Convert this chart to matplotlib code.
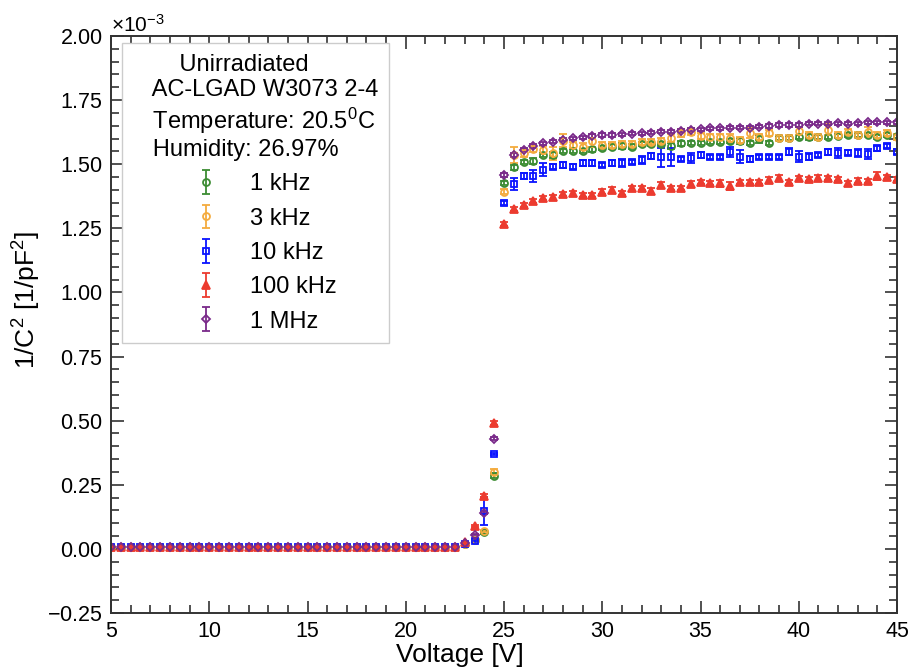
import numpy as np
import matplotlib
matplotlib.use("Agg")
from matplotlib import pyplot as plt
from matplotlib.ticker import MultipleLocator, ScalarFormatter

plt.rcParams['font.family'] = ['Liberation Sans', 'DejaVu Sans']
plt.rcParams['mathtext.fontset'] = 'custom'
plt.rcParams['mathtext.rm'] = 'Liberation Sans'
plt.rcParams['mathtext.it'] = 'Liberation Sans:italic'

# bias voltage, 0.5 V steps
voltage = np.arange(5.0, 45.01, 0.5)

# 1/C^2 in units of 1e-3 pF^-2
# 5.0 .. 22.5 V: all frequencies sit on the same flat baseline
flat = [0.007, 0.007, 0.007, 0.007, 0.007, 0.007, 0.007, 0.007, 0.007, 0.007, 0.007, 0.007,
        0.007, 0.007, 0.007, 0.007, 0.007, 0.007, 0.007, 0.007, 0.007, 0.007, 0.007, 0.007,
        0.007, 0.007, 0.007, 0.007, 0.007, 0.007, 0.007, 0.007, 0.007, 0.007, 0.007, 0.007]
flat_err = [0.002, 0.002, 0.002, 0.002, 0.002, 0.002, 0.002, 0.002, 0.002, 0.002, 0.002, 0.002,
            0.002, 0.002, 0.002, 0.002, 0.002, 0.002, 0.002, 0.002, 0.002, 0.002, 0.002, 0.002,
            0.002, 0.002, 0.002, 0.002, 0.002, 0.002, 0.002, 0.002, 0.002, 0.002, 0.002, 0.002]

# 23.0 .. 24.5 V
rise_1k = [0.020, 0.035, 0.065, 0.285]
rise_3k = [0.020, 0.035, 0.070, 0.300]
rise_10k = [0.020, 0.030, 0.148, 0.370]
rise_100k = [0.025, 0.090, 0.207, 0.490]
rise_1M = [0.022, 0.056, 0.140, 0.430]
rise_err_1k = [0.002, 0.003, 0.005, 0.010]
rise_err_3k = [0.002, 0.003, 0.005, 0.010]
rise_err_10k = [0.002, 0.004, 0.055, 0.005]
rise_err_100k = [0.002, 0.004, 0.006, 0.008]
rise_err_1M = [0.002, 0.003, 0.005, 0.006]

# 25.0 .. 45.0 V
plat_1k = [1.426, 1.488, 1.510, 1.514, 1.536, 1.536, 1.553, 1.553, 1.553, 1.558, 1.562,
           1.569, 1.571, 1.569, 1.579, 1.579, 1.579, 1.571, 1.582, 1.584, 1.584,
           1.588, 1.588, 1.592, 1.592, 1.582, 1.597, 1.582, 1.601, 1.601, 1.605,
           1.605, 1.605, 1.607, 1.610, 1.614, 1.614, 1.614, 1.607, 1.614, 1.610]
plat_3k = [1.393, 1.536, 1.543, 1.558, 1.555, 1.543, 1.592, 1.575, 1.569, 1.592, 1.575,
           1.575, 1.579, 1.579, 1.588, 1.588, 1.592, 1.601, 1.621, 1.627, 1.610,
           1.605, 1.605, 1.601, 1.595, 1.621, 1.605, 1.621, 1.601, 1.601, 1.630,
           1.614, 1.605, 1.635, 1.614, 1.627, 1.614, 1.627, 1.614, 1.621, 1.605]
plat_10k = [1.350, 1.423, 1.454, 1.454, 1.478, 1.491, 1.497, 1.491, 1.504, 1.504, 1.497,
            1.504, 1.504, 1.510, 1.517, 1.532, 1.527, 1.527, 1.519, 1.523, 1.536,
            1.527, 1.527, 1.549, 1.530, 1.519, 1.527, 1.527, 1.527, 1.549, 1.530,
            1.530, 1.536, 1.549, 1.545, 1.545, 1.545, 1.540, 1.562, 1.571, 1.549]
plat_100k = [1.267, 1.324, 1.341, 1.358, 1.367, 1.371, 1.384, 1.386, 1.380, 1.380, 1.393,
             1.400, 1.389, 1.406, 1.406, 1.397, 1.419, 1.406, 1.406, 1.423, 1.430,
             1.428, 1.425, 1.415, 1.432, 1.432, 1.432, 1.439, 1.445, 1.432, 1.445,
             1.442, 1.445, 1.445, 1.442, 1.425, 1.435, 1.435, 1.454, 1.449, 1.442]
plat_1M = [1.458, 1.536, 1.556, 1.571, 1.581, 1.588, 1.595, 1.601, 1.605, 1.610, 1.614,
           1.614, 1.617, 1.618, 1.621, 1.623, 1.627, 1.627, 1.631, 1.634, 1.637,
           1.640, 1.640, 1.643, 1.643, 1.643, 1.646, 1.649, 1.653, 1.653, 1.653,
           1.657, 1.657, 1.657, 1.660, 1.657, 1.660, 1.663, 1.663, 1.663, 1.663]

plat_err_1k = [0.008, 0.010, 0.008, 0.012, 0.008, 0.010, 0.008, 0.008, 0.008, 0.010, 0.008,
               0.008, 0.010, 0.008, 0.008, 0.008, 0.008, 0.012, 0.010, 0.008, 0.008,
               0.008, 0.008, 0.008, 0.012, 0.008, 0.015, 0.008, 0.008, 0.008, 0.008,
               0.012, 0.008, 0.008, 0.008, 0.008, 0.008, 0.008, 0.008, 0.008, 0.008]
plat_err_3k = [0.010, 0.030, 0.015, 0.012, 0.015, 0.025, 0.025, 0.012, 0.012, 0.025, 0.012,
               0.012, 0.010, 0.012, 0.012, 0.010, 0.012, 0.015, 0.015, 0.015, 0.012,
               0.012, 0.012, 0.015, 0.012, 0.020, 0.012, 0.012, 0.012, 0.012, 0.015,
               0.012, 0.012, 0.020, 0.012, 0.012, 0.012, 0.020, 0.012, 0.012, 0.012]
plat_err_10k = [0.008, 0.023, 0.012, 0.025, 0.025, 0.010, 0.010, 0.008, 0.012, 0.012, 0.008,
                0.012, 0.015, 0.008, 0.015, 0.012, 0.036, 0.035, 0.008, 0.020, 0.010,
                0.008, 0.008, 0.020, 0.025, 0.012, 0.008, 0.008, 0.008, 0.015, 0.020,
                0.015, 0.008, 0.012, 0.020, 0.010, 0.015, 0.020, 0.010, 0.008, 0.010]
plat_err_100k = [0.008, 0.008, 0.008, 0.008, 0.008, 0.010, 0.008, 0.008, 0.008, 0.008, 0.010,
                 0.012, 0.008, 0.010, 0.008, 0.012, 0.012, 0.008, 0.008, 0.012, 0.008,
                 0.008, 0.015, 0.015, 0.008, 0.008, 0.008, 0.012, 0.012, 0.008, 0.010,
                 0.008, 0.012, 0.008, 0.008, 0.008, 0.010, 0.008, 0.015, 0.008, 0.008]
plat_err_1M = [0.006, 0.006, 0.006, 0.006, 0.006, 0.006, 0.006, 0.006, 0.006, 0.006, 0.006,
               0.006, 0.006, 0.006, 0.006, 0.006, 0.006, 0.006, 0.006, 0.006, 0.006,
               0.006, 0.006, 0.006, 0.006, 0.006, 0.006, 0.006, 0.006, 0.006, 0.006,
               0.006, 0.006, 0.006, 0.006, 0.006, 0.006, 0.006, 0.006, 0.006, 0.006]

labels = ["1 kHz", "3 kHz", "10 kHz", "100 kHz", "1 MHz"]
values = [flat + rise_1k + plat_1k, flat + rise_3k + plat_3k, flat + rise_10k + plat_10k,
          flat + rise_100k + plat_100k, flat + rise_1M + plat_1M]
errors = [flat_err + rise_err_1k + plat_err_1k, flat_err + rise_err_3k + plat_err_3k,
          flat_err + rise_err_10k + plat_err_10k, flat_err + rise_err_100k + plat_err_100k,
          flat_err + rise_err_1M + plat_err_1M]
colors = ["#3c8c33", "#f4ab3e", "#0a14ff", "#ec3b2f", "#7a2a8a"]
markers = ["o", "o", "s", "^", "D"]
msizes = [5.0, 5.0, 5.0, 6.0, 4.4]
filled = [False, False, False, True, False]

fig = plt.figure(figsize=(9.12, 6.69), dpi=100)
ax = fig.add_axes([0.1217, 0.0837, 0.8619, 0.8625])

for v, e, c, m, ms, f, lab in zip(values, errors, colors, markers, msizes, filled, labels):
    ax.errorbar(voltage, np.array(v) * 1e-3, yerr=np.array(e) * 1e-3, fmt=m, color=c,
                ms=ms, mfc=c if f else "none", mec=c, mew=1.3, elinewidth=1.3,
                capsize=2.8, capthick=1.3, label=lab)

ax.set_xlim(5, 45)
ax.set_ylim(-0.25e-3, 2.0e-3)
ax.xaxis.set_major_locator(MultipleLocator(5))
ax.xaxis.set_minor_locator(MultipleLocator(1))
ax.yaxis.set_major_locator(MultipleLocator(0.25e-3))
ax.yaxis.set_minor_locator(MultipleLocator(0.05e-3))
fmt = ScalarFormatter(useMathText=True)
fmt.set_powerlimits((0, 0))
ax.yaxis.set_major_formatter(fmt)
ax.yaxis.get_offset_text().set_fontsize(15)

ax.tick_params(which="both", direction="in", top=True, right=True, width=1.2,
               color="#333333", labelsize=15.5)
ax.tick_params(which="major", length=9, pad=6)
ax.tick_params(which="minor", length=5.5)
for s in ax.spines.values():
    s.set_linewidth(1.4)
    s.set_color("#333333")

ax.set_xlabel("Voltage [V]", fontsize=19)
ax.set_ylabel("1/C$^2$ [1/pF$^2$]", fontsize=19)
ax.xaxis.set_label_coords(0.444, -0.052)
ax.yaxis.set_label_coords(-0.086, 0.542)

title = ("       Unirradiated\n   AC-LGAD W3073 2-4\n   Temperature: 20.5$^0$C\n"
         "   Humidity: 26.97%")
leg = ax.legend(loc="upper left", bbox_to_anchor=(0.014, 0.988), borderaxespad=0,
                title=title, fontsize=17, title_fontsize=17, alignment="left",
                handlelength=6.2, handletextpad=-1.23, labelspacing=0.52,
                borderpad=0.45, fancybox=False, edgecolor="#cccccc", framealpha=1)
leg.get_frame().set_linewidth(1.0)
leg.get_title().set_multialignment("left")

fig.savefig("out.png", dpi=100)
